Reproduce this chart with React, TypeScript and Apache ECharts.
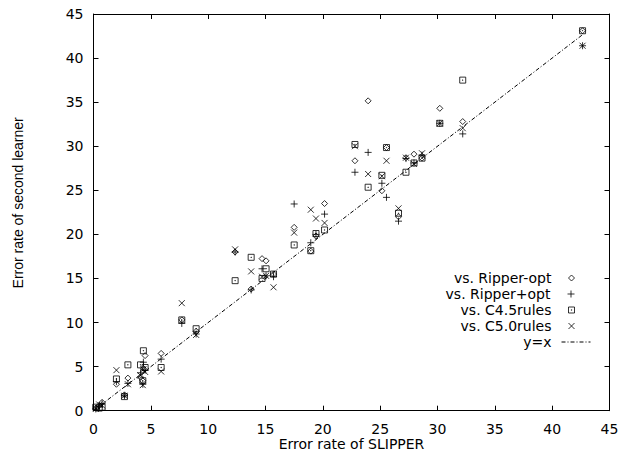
import React, { useEffect, useRef } from "react";
import * as echarts from "echarts";

// Error rate of SLIPPER (x) per dataset
const slipper = [0.2, 0.5, 0.75, 2.0, 2.7, 3.0, 4.1, 4.3, 4.5, 4.35, 5.9, 7.7, 8.95, 12.35, 13.75, 14.7, 15.05, 15.7, 17.5, 18.95, 19.4, 20.15, 22.8, 23.95, 25.15, 25.55, 26.6, 27.25, 27.95, 28.65, 30.2, 32.2, 42.65];
// Error rate of second learner
const ripperMinus = [0.3, 0.6, 0.95, 3.0, 1.8, 3.7, 3.8, 3.4, 6.25, 4.8, 6.5, 10.3, 9.0, 18.0, 13.8, 17.25, 17.0, 15.5, 20.8, 18.1, 19.8, 23.5, 28.35, 35.15, 24.95, 29.85, 22.0, 28.7, 29.1, 28.65, 34.3, 32.8, 43.1];
const ripperPlus = [0.2, 0.5, 0.8, 3.3, 1.7, 3.1, 4.3, 3.0, 4.6, 5.5, 5.85, 9.9, 8.7, 18.0, 13.7, 16.1, 15.3, 15.2, 23.45, 19.05, 20.0, 22.3, 27.05, 29.3, 25.8, 24.2, 21.5, 28.6, 28.1, 29.0, 32.6, 31.4, 41.4];
const c45rules = [0.4, 0.3, 0.4, 3.6, 1.6, 5.2, 5.2, 3.4, 4.9, 6.8, 4.9, 10.3, 9.3, 14.75, 17.4, 15.0, 16.1, 15.5, 18.8, 18.15, 20.1, 20.5, 30.2, 25.35, 26.7, 29.85, 22.4, 27.05, 28.1, 28.65, 32.6, 37.5, 43.1];
const c50rules = [0.2, 0.7, 0.6, 4.6, 1.7, 3.0, 4.0, 2.9, 4.4, 4.7, 4.45, 12.2, 8.6, 18.3, 15.8, 15.2, 15.3, 14.0, 20.2, 22.8, 21.8, 21.3, 30.0, 26.85, 26.6, 28.35, 22.95, 28.7, 28.0, 29.2, 32.6, 32.05, 41.4];
// reference line y = x
const diagonal = [0, 42.6];

const seriesNames = ["vs. Ripper-opt", "vs. Ripper+opt", "vs. C4.5rules", "vs. C5.0rules", "y=x"];

const PLUS = "path://M5,0L5,10M0,5L10,5";
const CROSS = "path://M0,0L10,10M10,0L0,10";
const BOX = "path://M0,0L10,0L10,10L0,10Z M4.6,4.6L5.4,4.6L5.4,5.4L4.6,5.4Z";
const DASHDOT = [4, 2, 1, 2];
const FONT = "DejaVu Sans";

export default function App() {
  const ref = useRef<HTMLDivElement>(null);
  useEffect(() => {
    if (!ref.current) return;
    const chart = echarts.init(ref.current, undefined, { renderer: "svg" });
    const pts = (ys: number[]) => slipper.map((x, i) => [x, ys[i]]);
    const markerStyle = { color: "transparent", borderColor: "#000", borderWidth: 1 };
    const symbols = ["diamond", PLUS, BOX, CROSS];
    const sizes = [6, 7, 6, 6];
    const ys = [ripperMinus, ripperPlus, c45rules, c50rules];

    const rowY = [279, 295, 311, 327, 343];
    const legends = seriesNames.map((name, i) => {
      const isLine = i === 4;
      return {
        orient: "horizontal",
        right: isLine ? 28 : 44,
        top: rowY[i] - 8,
        padding: 0,
        align: "right",
        selectedMode: false,
        itemWidth: isLine ? 29 : sizes[i],
        itemHeight: isLine ? 8 : sizes[i],
        data: [isLine ? { name } : { name, icon: symbols[i] }],
        textStyle: {
          fontFamily: FONT,
          fontSize: 14,
          color: "#000",
          padding: [0, isLine ? 5 : 12, 0, 0],
        },
        itemStyle: isLine
          ? { color: "transparent", borderWidth: 0, opacity: 0 }
          : { borderWidth: 1, borderColor: "#000", color: "transparent" },
        lineStyle: isLine ? { width: 1, color: "#000", type: DASHDOT, opacity: 1 } : undefined,
      };
    });

    const axisCommon = {
      type: "value",
      min: 0,
      max: 45,
      interval: 5,
      axisLine: { show: true, onZero: false, lineStyle: { color: "#000", width: 1 } },
      axisTick: { show: true, inside: true, length: 5, lineStyle: { color: "#000" } },
      splitLine: { show: false },
    };

    chart.setOption({
      animation: false,
      backgroundColor: "#fff",
      grid: {
        left: 93.5,
        right: 9.5,
        top: 14,
        bottom: 40.3,
        show: false,
        containLabel: false,
        outerBoundsMode: "none",
      },
      legend: legends,
      xAxis: [
        {
          ...axisCommon,
          position: "bottom",
          name: "Error rate of SLIPPER",
          nameLocation: "middle",
          nameGap: 26,
          nameMoveOverlap: false,
          nameTextStyle: { fontFamily: FONT, fontSize: 14, color: "#000" },
          axisLabel: { fontFamily: FONT, fontSize: 14, color: "#000", margin: 11 },
        },
        { ...axisCommon, position: "top", axisLabel: { show: false } },
      ],
      yAxis: [
        {
          ...axisCommon,
          position: "left",
          name: "Error rate of second learner",
          nameLocation: "middle",
          nameGap: 69,
          nameMoveOverlap: false,
          nameTextStyle: { fontFamily: "Liberation Sans", fontSize: 14, color: "#000", padding: [0, 0, 0, 19] },
          axisLabel: { fontFamily: FONT, fontSize: 14, color: "#000", margin: 10 },
        },
        { ...axisCommon, position: "right", axisLabel: { show: false } },
      ],
      series: [
        ...ys.map((y, i) => ({
          name: seriesNames[i],
          type: "scatter",
          symbol: symbols[i],
          symbolSize: sizes[i],
          itemStyle: markerStyle,
          data: pts(y),
          z: 3,
        })),
        {
          name: seriesNames[4],
          type: "line",
          symbol: "none",
          data: diagonal.map((v) => [v, v]),
          lineStyle: { color: "#000", width: 1, type: DASHDOT },
          z: 2,
        },
      ],
    });
    return () => chart.dispose();
  }, []);
  return <div ref={ref} style={{ position: "fixed", left: 0, top: 0, width: 619, height: 451 }} />;
}
